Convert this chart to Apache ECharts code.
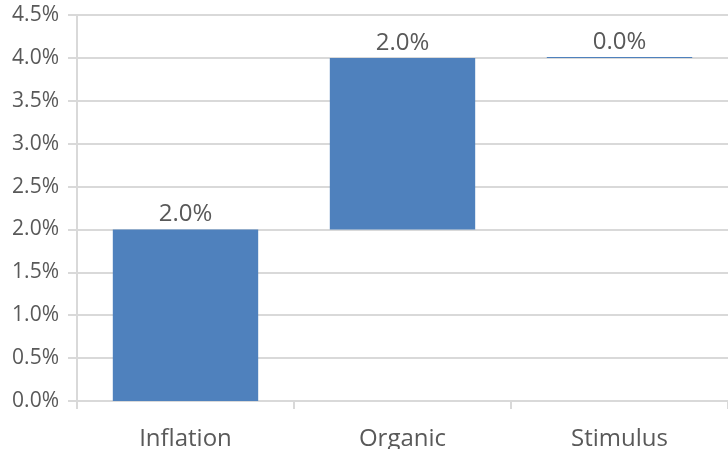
<!DOCTYPE html>
<html><head><meta charset="utf-8">
<script src="https://cdn.jsdelivr.net/npm/echarts@6/dist/echarts.min.js"></script>
<style>html,body{margin:0;padding:0;background:#fff}#c{width:728px;height:449px}</style>
</head><body><div id="c"></div>
<script>
const categories = ['Inflation', 'Organic', 'Stimulus'];
const startValues = [0, 2.0, 4.0];
const changeValues = [2.0, 2.0, 0.0];
const yTicks = [0, 0.5, 1.0, 1.5, 2.0, 2.5, 3.0, 3.5, 4.0, 4.5];

const chart = echarts.init(document.getElementById('c'), null, {renderer: 'canvas'});
const font = '"Open Sans", "DejaVu Sans", sans-serif';
chart.setOption({
  animation: false,
  grid: {left: 77, right: 0, top: 15, bottom: 48, outerBoundsMode: 'none', containLabel: false},
  xAxis: {
    type: 'category', data: categories,
    axisLine: {show: true, lineStyle: {color: '#d9d9d9', width: 2}},
    axisTick: {show: true, length: 8, lineStyle: {color: '#d9d9d9', width: 2}},
    axisLabel: {fontFamily: font, fontSize: 24, color: '#595959', margin: 26}
  },
  yAxis: {
    type: 'value', min: yTicks[0], max: yTicks[yTicks.length - 1], interval: 0.5,
    axisLine: {show: true, lineStyle: {color: '#d9d9d9', width: 2}},
    axisTick: {show: true, length: 9, lineStyle: {color: '#d9d9d9', width: 2}},
    splitLine: {show: true, lineStyle: {color: '#d9d9d9', width: 2}},
    axisLabel: {fontFamily: font, fontSize: 21, color: '#595959', margin: 18,
      formatter: v => v.toFixed(1) + '%'}
  },
  series: [
    {type: 'bar', stack: 'w', data: startValues, barCategoryGap: '33%',
     itemStyle: {color: 'transparent'}, silent: true},
    {type: 'bar', stack: 'w', data: changeValues, barCategoryGap: '33%', barMinHeight: 1,
     itemStyle: {color: '#4f81bd'},
     label: {show: true, position: 'top', distance: 3, fontFamily: font, fontSize: 24,
       color: '#595959', formatter: p => p.value.toFixed(1) + '%'}}
  ]
});
</script></body></html>
